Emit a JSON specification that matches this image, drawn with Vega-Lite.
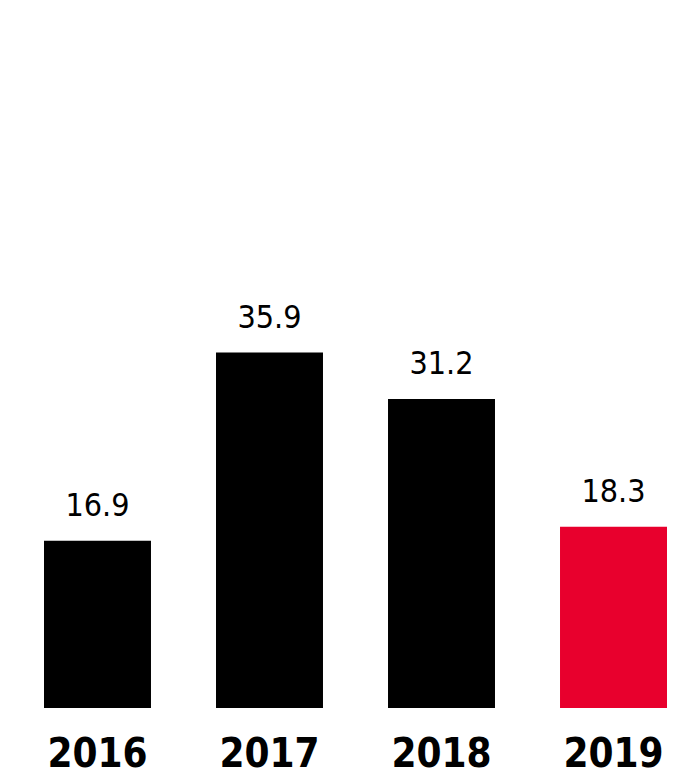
{
  "$schema": "https://vega.github.io/schema/vega-lite/v6.json",
  "autosize": "none",
  "width": 623,
  "height": 708,
  "padding": {"left": 44, "right": 26, "top": 0, "bottom": 69},
  "background": "white",
  "config": {"view": {"stroke": null}},
  "data": {"values": [
    {"year": "2016", "value": 16.9, "highlight": "no"},
    {"year": "2017", "value": 35.9, "highlight": "no"},
    {"year": "2018", "value": 31.2, "highlight": "no"},
    {"year": "2019", "value": 18.3, "highlight": "yes"}
  ]},
  "encoding": {
    "x": {"field": "year", "type": "nominal", "sort": null,
      "scale": {"paddingInner": 0.378, "paddingOuter": 0},
      "axis": {"title": null, "domain": false, "ticks": false, "labelPadding": 58, "labelFontSize": 40, "labelFont": "DejaVu Sans Condensed", "labelFontWeight": "bold", "labelColor": "black", "labelBaseline": "alphabetic", "labelAngle": 0}},
    "y": {"field": "value", "type": "quantitative", "scale": {"domain": [0, 71.5], "nice": false}, "axis": null}
  },
  "layer": [
    {"mark": {"type": "bar"},
     "encoding": {"color": {"field": "highlight", "type": "nominal", "scale": {"domain": ["no", "yes"], "range": ["#000000", "#E8002D"]}, "legend": null}}},
    {"mark": {"type": "text", "dy": -25, "baseline": "alphabetic", "fontSize": 32, "font": "DejaVu Sans Condensed", "fontWeight": 300, "color": "black"},
     "encoding": {"text": {"field": "value", "type": "quantitative", "format": ".1f"}}}
  ]
}
